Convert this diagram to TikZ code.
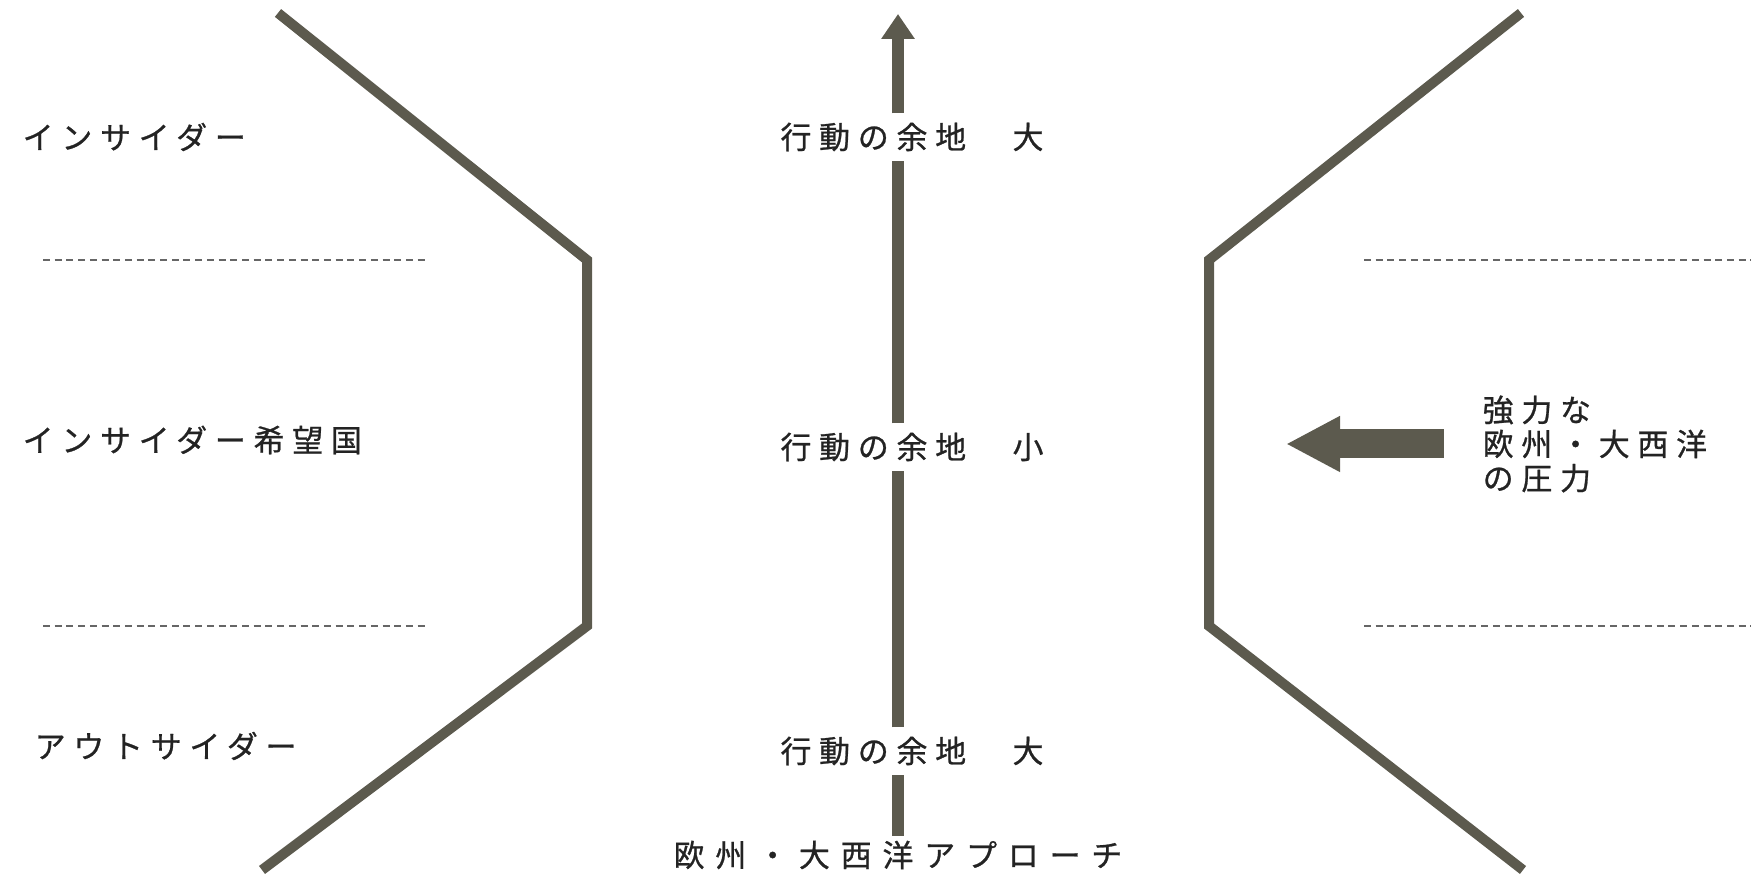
\documentclass[tikz,border=0pt]{standalone}
\usepackage{fontspec}
\usepackage{tikz}
\usetikzlibrary{arrows.meta}
\newfontfamily\jfont[LetterSpace=25,FakeBold=0.8]{Noto Sans CJK JP}
\newfontfamily\jwidefont[LetterSpace=35,FakeBold=0.8]{Noto Sans CJK JP}
\definecolor{wallgray}{RGB}{92,90,78}
\definecolor{txtgray}{RGB}{35,35,35}
\tikzset{
  wall/.style={line width=0.1cm,wallgray,line join=miter},
  sep/.style={line width=0.025cm,gray!80!black,dash pattern=on 0.07cm off 0.047cm},
  lbl/.style={inner sep=0pt,txtgray,font=\jfont\fontsize{8.8pt}{10.5pt}\selectfont},
  mid/.style={lbl,minimum height=0.46cm},
  shaft/.style={line width=0.12cm,wallgray},
  push/.style={line width=0.29cm,wallgray,-{Triangle[width=0.52cm,length=0.54cm]}}
}
\begin{document}
\begin{tikzpicture}[line cap=butt,x=0.01cm,y=-0.01cm]
\useasboundingbox (0,0) rectangle (1760,874);
% side walls
\draw [wall] (278,13)-- (587,260)-- (587,626)-- (262,870);
\draw [wall] (1521,13)-- (1209,260)-- (1209,626)-- (1523,870);
% zone borders
\draw [sep] (43,260)-- (427,260);
\draw [sep] (43,626)-- (427,626);
\draw [sep] (1364,260)-- (1751,260);
\draw [sep] (1364,626)-- (1751,626);
% zone labels
\node [lbl,anchor=west] (ins) at (22,137) {インサイダー};
\node [lbl,anchor=west] (cand) at (22,440) {インサイダー希望国};
\node [lbl,anchor=west] (outs) at (34,746) {アウトサイダー};
% central axis
\coordinate (tip) at (898,14);
\coordinate (base) at (898,836);
\node [mid] (big1) at (912,137) {行動の余地　大};
\node [mid] (small) at (912,447) {行動の余地　小};
\node [mid] (big2) at (912,751) {行動の余地　大};
\node [lbl,font=\jwidefont\fontsize{8.8pt}{10.5pt}\selectfont] (appr) at (898,855) {欧州・大西洋アプローチ};
\draw [shaft] (base)-- (tip |- big2.south);
\draw [shaft] (tip |- big2.north)-- (tip |- small.south);
\draw [shaft] (tip |- small.north)-- (tip |- big1.south);
\draw [shaft,-{Triangle[width=0.32cm,length=0.25cm]}] (tip |- big1.north)-- (tip);
% pressure
\node [lbl,anchor=west,align=left] (press) at (1482,444) {強力な\\[-0.8pt]欧州・大西洋\\[-0.8pt]の圧力};
\draw [push] ([xshift=-0.38cm]press.west)-- ++(-158,0);
\end{tikzpicture}
\end{document}
